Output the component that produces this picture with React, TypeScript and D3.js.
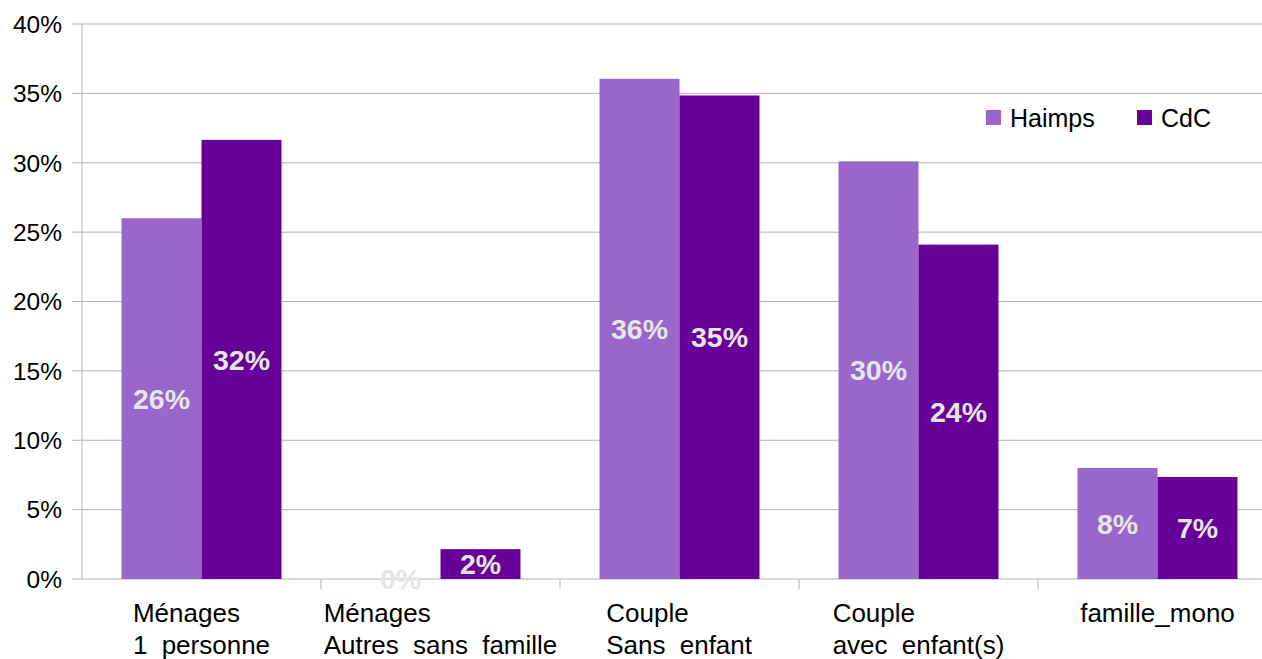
import React from "react";
import * as d3 from "d3";

const categories: string[][] = [
  ["Ménages", "1 personne"],
  ["Ménages", "Autres sans famille"],
  ["Couple", "Sans enfant"],
  ["Couple", "avec enfant(s)"],
  ["famille_mono"],
];
const seriesNames = ["Haimps", "CdC"];
const haimps = [26.0, 0.0, 36.05, 30.1, 8.0];
const cdc = [31.65, 2.15, 34.85, 24.1, 7.35];
const labelsHaimps = ["26%", "0%", "36%", "30%", "8%"];
const labelsCdc = ["32%", "2%", "35%", "24%", "7%"];
const yTicks = [0, 5, 10, 15, 20, 25, 30, 35, 40];
const colors = ["#9966CC", "#660099"];

export default function App() {
  const W = 1262;
  const H = 659;
  const left = 82;
  const top = 24;
  const bottom = 579;
  const band = 239;
  const x = d3
    .scaleBand<number>()
    .domain(d3.range(categories.length))
    .range([left, left + band * categories.length])
    .paddingInner(0)
    .paddingOuter(0);
  const inner = d3
    .scaleBand<number>()
    .domain([0, 1])
    .range([39.5, band - 39.5]);
  const y = d3.scaleLinear().domain([0, 40]).range([bottom, top]);
  const font = "'Liberation Sans', Arial, sans-serif";
  const grid = "#B3B3B3";
  const series = [haimps, cdc];
  const labels = [labelsHaimps, labelsCdc];

  return (
    <svg width={W} height={H} style={{ display: "block", position: "absolute", left: 0, top: 0 }}>
      <rect x={0} y={0} width={W} height={H} fill="#fff" />
      {yTicks.map((t) => (
        <g key={t}>
          <line x1={72} x2={W} y1={y(t)} y2={y(t)} stroke={grid} strokeWidth={1} />
          <text x={62} y={y(t)} dy="0.36em" textAnchor="end" fontFamily={font} fontSize={24.5} fill="#000">
            {t}%
          </text>
        </g>
      ))}
      <line x1={left} x2={left} y1={top} y2={bottom} stroke={grid} />
      {categories.map((_, i) => (
        <line key={i} x1={x(i)! + band} x2={x(i)! + band} y1={bottom} y2={bottom + 10} stroke={grid} />
      ))}
      {series.map((vals, s) =>
        vals.map((v, i) => (
          <rect
            key={`${s}-${i}`}
            x={x(i)! + inner(s)!}
            y={y(v)}
            width={inner.bandwidth()}
            height={bottom - y(v)}
            fill={colors[s]}
          />
        ))
      )}
      {series.map((vals, s) =>
        vals.map((v, i) => (
          <text
            key={`l${s}-${i}`}
            x={x(i)! + inner(s)! + inner.bandwidth() / 2}
            y={(y(v) + bottom) / 2}
            dy="0.36em"
            textAnchor="middle"
            fontFamily={font}
            fontWeight="bold"
            fontSize={28.5}
            fill="#E6E6E6"
          >
            {labels[s][i]}
          </text>
        ))
      )}
      {categories.map((lines, i) => (
        <CatLabel key={i} lines={lines} cx={x(i)! + band / 2} font={font} />
      ))}
      {seriesNames.map((n, s) => {
        const lx = s === 0 ? 986 : 1137;
        return (
          <g key={n}>
            <rect x={lx} y={110} width={15} height={15} fill={colors[s]} />
            <text x={lx + 24} y={118} dy="0.36em" fontFamily={font} fontSize={25} fill="#000">
              {n}
            </text>
          </g>
        );
      })}
    </svg>
  );
}

function CatLabel({ lines, cx, font }: { lines: string[]; cx: number; font: string }) {
  const ref = React.useRef<SVGGElement>(null);
  const [offset, setOffset] = React.useState(0);
  React.useLayoutEffect(() => {
    if (ref.current) {
      const bb = ref.current.getBBox();
      setOffset(bb.width / 2);
    }
  }, []);
  return (
    <g ref={ref} transform={`translate(${cx - offset},0)`}>
      {lines.map((l, k) => (
        <text
          key={k}
          x={0}
          y={622 + k * 32}
          fontFamily={font}
          fontSize={26}
          wordSpacing={7}
          fill="#000"
        >
          {l}
        </text>
      ))}
    </g>
  );
}
